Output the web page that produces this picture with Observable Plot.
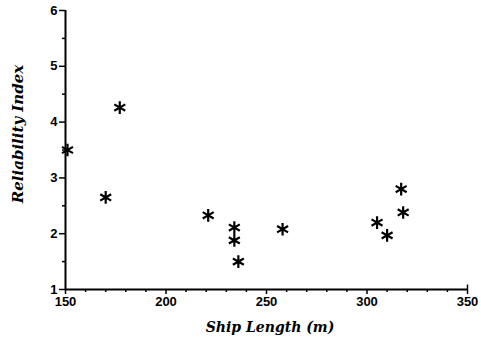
<!DOCTYPE html>
<html>
<head>
<meta charset="utf-8">
<script src="https://cdn.jsdelivr.net/npm/d3@7"></script>
<script src="https://cdn.jsdelivr.net/npm/@observablehq/plot@0.6"></script>
<style>
  html, body { margin: 0; padding: 0; background: #fff; }
  #chart { width: 481px; height: 342px; }
  .title { font-family: "DejaVu Serif", serif; font-weight: bold; font-style: italic; }
</style>
</head>
<body>
<div id="chart"></div>
<script>
// Ship length (m) against reliability index
const shipLength = [151, 170, 177, 221, 234, 234, 236, 258, 305, 310, 317, 318];
const reliability = [3.5, 2.65, 4.26, 2.33, 2.11, 1.88, 1.5, 2.08, 2.2, 1.97, 2.8, 2.38];

const xMajor = [150, 200, 250, 300, 350];
const xMinor = d3.range(160, 350, 10).filter(v => v % 50 !== 0);
const yMajor = [1, 2, 3, 4, 5, 6];
const yMinor = [1.5, 2.5, 3.5, 4.5, 5.5];

const data = shipLength.map((x, i) => ({x, y: reliability[i]}));

const tickFont = {fontSize: 13, fontWeight: "bold", fontFamily: "'Liberation Sans', Arial, sans-serif"};

const chart = Plot.plot({
  width: 481,
  height: 342,
  marginLeft: 65,
  marginRight: 14,
  marginTop: 10,
  marginBottom: 53,
  style: {background: "#fff", color: "#000", overflow: "visible"},
  x: {domain: [150, 350]},
  y: {domain: [1, 6]},
  marks: [
    Plot.axisX({ticks: xMajor, tickSize: 5, tickPadding: 2, strokeWidth: 1.5, label: null, tickFormat: "d", ...tickFont}),
    Plot.axisX({ticks: xMinor, tickSize: 3, text: null, strokeWidth: 1.5, label: null}),
    Plot.axisY({ticks: yMajor, tickSize: 6, tickPadding: 2, strokeWidth: 1.5, label: null, tickFormat: "d", ...tickFont}),
    Plot.axisY({ticks: yMinor, tickSize: 3, text: null, strokeWidth: 1.5, label: null}),
    Plot.ruleY([1], {strokeWidth: 2}),
    Plot.ruleX([150], {strokeWidth: 2}),
    Plot.ruleX([350], {y1: 1, y2: 1.08, strokeWidth: 1.5}),
    Plot.dot(data, {x: "x", y: "y", symbol: "asterisk", r: 6, stroke: "#000", strokeWidth: 2.2})
  ]
});

// axis titles
const svg = d3.select(chart);
svg.append("text")
  .attr("class", "title")
  .attr("x", 270).attr("y", 332)
  .attr("text-anchor", "middle")
  .attr("font-size", 14)
  .text("Ship Length (m)");
svg.append("text")
  .attr("class", "title")
  .attr("transform", "translate(23,134) rotate(-90)")
  .attr("text-anchor", "middle")
  .attr("font-size", 15)
  .text("Reliability Index");

document.getElementById("chart").appendChild(chart);
</script>
</body>
</html>
